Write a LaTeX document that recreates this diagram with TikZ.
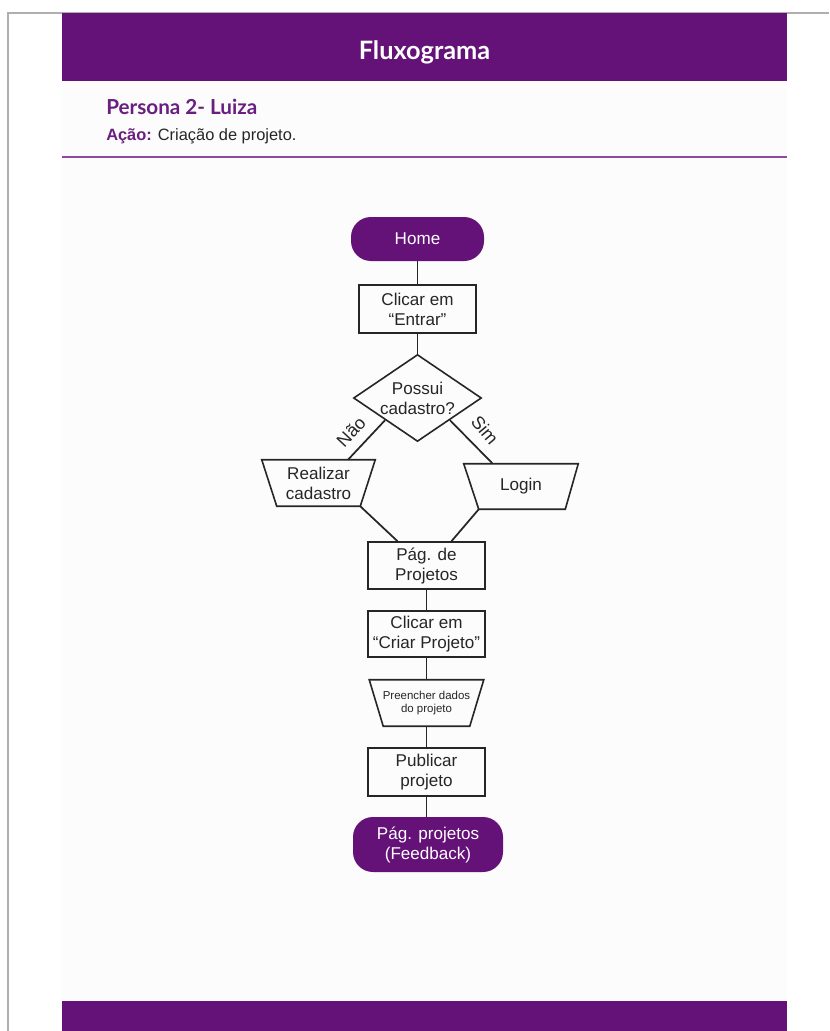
\documentclass[tikz,border=0pt]{standalone}
\usepackage{fontspec}
\setmainfont{Liberation Sans}
\newfontfamily\headfont{Lato}
\usetikzlibrary{calc,shapes.geometric}
\definecolor{brand}{RGB}{100,17,120}
\definecolor{brandtxt}{RGB}{106,30,128}
\definecolor{brandline}{RGB}{142,74,158}
\definecolor{pagebg}{RGB}{252,252,252}
\definecolor{framegray}{RGB}{175,175,175}
\def\pu{0.75pt}
\tikzset{
  flowtext/.style={font=\fontsize{12.8}{15}\selectfont, align=center, text=black!85},
  terminal/.style={flowtext, fill=brand, text=white, rounded corners=20*\pu, inner sep=0pt},
  procbox/.style={flowtext, draw=black!85, line width=1.2pt, inner sep=0pt},
  ghost/.style={flowtext, inner sep=0pt},
  shapeline/.style={draw=black!85, line width=1.2pt, line join=miter},
  conn/.style={draw=black!85, line width=1.3pt},
  edgelabel/.style={font=\fontsize{13.5}{15}\selectfont, text=black!85, inner sep=0pt}
}
\begin{document}
\begin{tikzpicture}[x=0.75pt,y=-0.75pt]
\useasboundingbox (0,0) rectangle (829,1031);
% page
\fill[white] (0,0) rectangle (829,1031);
\fill[pagebg] (62,81) rectangle (787,1001);
\draw[framegray, line width=0.9pt] (8,1031) -- (8,13) -- (829,13);
% header / footer bands
\fill[brand] (62,13) rectangle (787,81);
\fill[brand] (62,1001) rectangle (787,1031);
\node[font=\headfont\bfseries\fontsize{19}{22}\selectfont, text=white, anchor=base, inner sep=0pt] (title) at (424.5,60) {Fluxograma};
\node[font=\headfont\bfseries\fontsize{15.5}{18}\selectfont, text=brandtxt, anchor=base west, inner sep=0pt] (persona) at (106,114) {Persona 2- Luiza};
\node[font=\fontsize{12.3}{14}\selectfont, anchor=base west, inner sep=0pt, text=black!85] (acao) at (106,140) {\textcolor{brandtxt}{\textbf{Ação:}} Criação de projeto.};
\draw[brandline, line width=1.5pt] (62,157) coordinate (sepL) -- (787,157) coordinate (sepR);

% flowchart nodes
\node[terminal, minimum width=133*\pu, minimum height=44*\pu] (home) at (417.5,239) {Home};
\node[procbox, minimum width=117*\pu, minimum height=48*\pu] (entrar) at (417.5,309) {Clicar em\\“Entrar”};
\node[diamond, shapeline, minimum width=128*\pu, minimum height=87*\pu, inner sep=0pt,
      label={[flowtext]center:Possui\\cadastro?}] (d) at (417.5,398) {};
\node[ghost, minimum width=113*\pu, minimum height=46*\pu] (rc) at (318.5,483) {Realizar\\cadastro};
\node[ghost, minimum width=114*\pu, minimum height=45*\pu] (lg) at (521,486.5) {Login};
\node[procbox, minimum width=117*\pu, minimum height=47*\pu] (pp) at (426.5,565.5) {Pág. de\\Projetos};
\node[procbox, minimum width=117*\pu, minimum height=46*\pu] (cp) at (426.5,634) {Clicar em\\“Criar Projeto”};
\node[ghost, font=\fontsize{8.6}{10}\selectfont, minimum width=114*\pu, minimum height=46*\pu] (pd) at (426.5,703) {Preencher dados\\do projeto};
\node[procbox, minimum width=117*\pu, minimum height=48*\pu] (pub) at (426.5,772) {Publicar\\projeto};
\node[terminal, minimum width=150*\pu, minimum height=55*\pu] (fb) at (428,844.5) {Pág. projetos\\(Feedback)};

% trapezium outlines
\draw[shapeline] (rc.north west) -- (rc.north east) -- ($(rc.south east)+(-15,0)$) -- ($(rc.south west)+(15,0)$) -- cycle;
\draw[shapeline] (lg.north west) -- (lg.north east) -- ($(lg.south east)+(-13,0)$) -- ($(lg.south west)+(15,0)$) -- cycle;
\draw[shapeline] (pd.north west) -- (pd.north east) -- ($(pd.south east)+(-14,0)$) -- ($(pd.south west)+(14,0)$) -- cycle;

% connectors
\draw[conn] (home.south) -- (entrar.north);
\draw[conn] (entrar.south) -- (d.north);
\draw[conn] ($(d.west)!0.5!(d.south)$) -- ($(rc.north)+(29.5,0)$);
\draw[conn] ($(d.east)!0.5!(d.south)$) -- ($(lg.north west)+(29,0)$);
\draw[conn] ($(rc.south east)+(-15,0)$) -- ($(pp.north)+(-29,0)$);
\draw[conn] ($(lg.south west)+(15,0)$) -- ($(pp.north)+(25,0)$);
\draw[conn] (pp.south) -- (cp.north);
\draw[conn] (cp.south) -- (pd.north);
\draw[conn] (pd.south) -- (pub.north);
\draw[conn] (pub.south) -- (pub.south |- fb.north);

% edge labels
\node[edgelabel, rotate=47] (nao) at (351,432) {Não};
\node[edgelabel, rotate=-50] (sim) at (485,430) {Sim};
\end{tikzpicture}
\end{document}
